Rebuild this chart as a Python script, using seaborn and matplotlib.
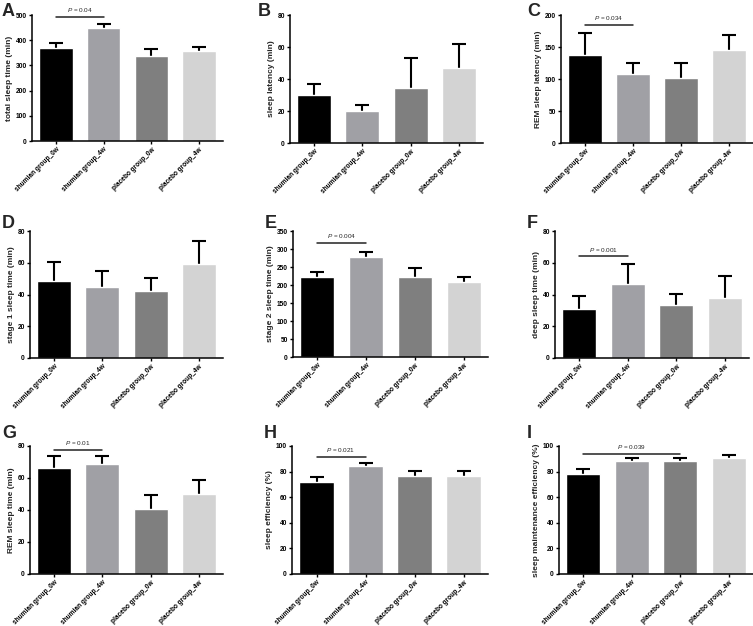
import numpy as np
import pandas as pd
import matplotlib
matplotlib.use("Agg")
import matplotlib.pyplot as plt
import seaborn as sns

sns.set_theme(style="ticks")
plt.rcParams['font.family'] = ['Liberation Sans', 'DejaVu Sans']
plt.rcParams['mathtext.fontset'] = 'custom'
plt.rcParams['mathtext.it'] = 'Liberation Sans:italic'
plt.rcParams['mathtext.rm'] = 'Liberation Sans'

groups = ["shumian group_0w", "shumian group_4w", "placebo group_0w", "placebo group_4w"]
bar_colors = ["#000000", "#a0a0a5", "#7f7f7f", "#d3d3d3"]

# panel data: means and upper error (SE)
total_sleep_mean = [370, 447, 338, 359]
total_sleep_err = [19, 16, 27, 15]
sleep_latency_mean = [30.1, 20.3, 34.2, 46.6]
sleep_latency_err = [6.6, 3.7, 19.2, 15.2]
rem_latency_mean = [138, 108, 102, 146]
rem_latency_err = [34.5, 17.3, 22.5, 23]
stage1_mean = [48.4, 44.8, 42.3, 59.5]
stage1_err = [11.9, 10.1, 8.2, 14.2]
stage2_mean = [222, 277, 223, 207]
stage2_err = [14, 16, 25, 14]
deep_mean = [30.8, 46.5, 33.7, 38.1]
deep_err = [8.2, 12.8, 6.5, 13.8]
rem_time_mean = [66.2, 68.5, 40.5, 50.3]
rem_time_err = [7.5, 5.4, 8.8, 8.2]
efficiency_mean = [72.1, 84.4, 76.3, 76.6]
efficiency_err = [3.9, 2.3, 4.4, 3.6]
maintenance_mean = [78.4, 88.3, 88.3, 90.9]
maintenance_err = [3.6, 2.6, 2.3, 2.1]

panel_letters = ["A", "B", "C", "D", "E", "F", "G", "H", "I"]
ylabels = ["total sleep time (min)", "sleep latency (min)", "REM sleep latency (min)",
           "stage 1 sleep time (min)", "stage 2 sleep time (min)", "deep sleep time (min)",
           "REM sleep time (min)", "sleep efficiency (%)", "sleep maintenance efficiency (%)"]
means = [total_sleep_mean, sleep_latency_mean, rem_latency_mean, stage1_mean, stage2_mean,
         deep_mean, rem_time_mean, efficiency_mean, maintenance_mean]
errs = [total_sleep_err, sleep_latency_err, rem_latency_err, stage1_err, stage2_err,
        deep_err, rem_time_err, efficiency_err, maintenance_err]
ymax = [500, 80, 200, 80, 350, 80, 80, 100, 100]
ystep = [100, 20, 50, 20, 50, 20, 20, 20, 20]
# significance annotations: (from bar, to bar, line height, p-value text)
p_notes = {0: (0, 1, 493, "0.04"), 2: (0, 1, 184, "0.034"), 4: (0, 1, 317, "0.004"),
           5: (0, 1, 64, "0.001"), 6: (0, 1, 77.5, "0.01"), 7: (0, 1, 91.4, "0.021"),
           8: (0, 2, 94, "0.039")}

W, H = 753, 626
fig = plt.figure(figsize=(W / 100, H / 100), dpi=100)

# axes boxes in pixels: x0, x1, y0(top), y1(bottom)
boxes = [(32, 223, 15, 141), (290, 483, 15, 143), (561, 753, 15, 143),
         (30, 223, 231, 358), (293, 488, 231, 357), (555, 749, 231, 358),
         (30, 223, 446, 574), (292, 488, 446, 574), (559, 753, 446, 574)]
letter_pos = [(2, 3), (258, 3), (527, 3), (2, 215), (265, 215), (527, 215),
              (2, 425), (264, 425), (527, 425)]

for i in range(9):
    x0, x1, y0, y1 = boxes[i]
    ax = fig.add_axes([x0 / W, 1 - y1 / H, (x1 - x0) / W, (y1 - y0) / H])
    df = pd.DataFrame({"group": groups, "value": means[i], "err": errs[i]})
    sns.barplot(data=df, x="group", y="value", hue="group", palette=bar_colors,
                errorbar=None, width=0.7, saturation=1, legend=False, ax=ax, zorder=2)
    ax.errorbar(np.arange(len(groups)), df["value"], yerr=df["err"], fmt="none",
                ecolor="black", elinewidth=1.5, capsize=5, capthick=1.5, zorder=1)
    ax.set_xlim(-0.5, 3.5)
    ax.set_ylim(0, ymax[i])
    ax.set_yticks(np.arange(0, ymax[i] + 1, ystep[i]))
    ax.set_xlabel("")
    ax.set_ylabel(ylabels[i], fontsize=6, fontweight="bold", labelpad=2)
    ax.set_xticks(range(4))
    ax.set_xticklabels(groups, rotation=45, ha="right", rotation_mode="anchor",
                       fontsize=4.7, fontweight="bold")
    for t in ax.get_yticklabels():
        t.set_fontsize(4.8)
        t.set_fontweight("bold")
    ax.tick_params(axis="both", direction="out", length=2.5, width=1, pad=1.2, colors="black")
    sns.despine(ax=ax)
    ax.spines["left"].set_linewidth(1.1)
    ax.spines["bottom"].set_linewidth(1.1)
    ax.spines["left"].set_color("black")
    ax.spines["bottom"].set_color("black")
    ax.patch.set_alpha(0)
    if i in p_notes:
        a, b, yl, ptxt = p_notes[i]
        ax.plot([a, b], [yl, yl], color="#222222", lw=1.1, clip_on=False, zorder=3)
        ax.annotate(r"$\it{P}$ = " + ptxt, xy=((a + b) / 2, yl), xytext=(0, 2),
                    textcoords="offset points", ha="center", va="bottom",
                    fontsize=4.6, annotation_clip=False)
    lx, ly = letter_pos[i]
    fig.text(lx / W, 1 - ly / H, panel_letters[i], fontsize=13, fontweight="bold",
             ha="left", va="top")

fig.savefig("out.png", dpi=100)
